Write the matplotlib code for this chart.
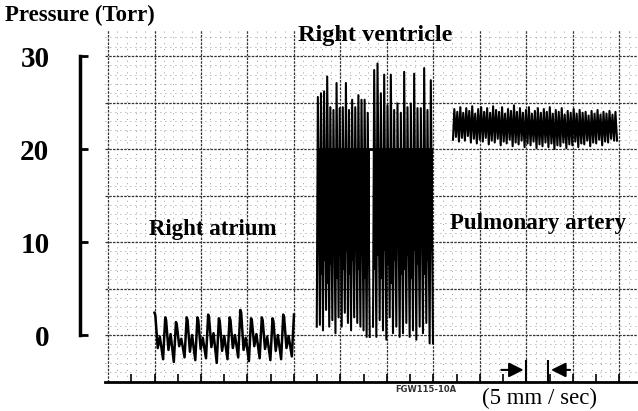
import matplotlib
matplotlib.use('Agg')
import matplotlib.pyplot as plt
import numpy as np

plt.rcParams['font.family'] = ['Liberation Serif', 'DejaVu Serif']

# ── Data (pressure in Torr, time in grid boxes) ──
# Right atrium: one value per beat
ra_span   = (1.0, 4.0)
ra_peak   = [2.4, 1.9, 1.4, 1.9, 1.9, 2.2, 1.8, 1.9, 2.7, 1.8, 1.9, 1.8, 2.2]
ra_dip    = [-1.4, -1.6, -1.2, -1.8, -1.5, -1.3, -1.7, -1.4, -1.6, -1.2, -1.5, -1.7, -1.4]
ra_bump   = [-0.2, 0.1, -0.4, 0.0, -0.3, 0.2, -0.1, 0.0, -0.3, 0.1, -0.2, 0.0, -0.1]
ra_trough = [-2.6, -2.9, -2.4, -2.7, -2.5, -3.0, -2.6, -2.4, -2.8, -2.5, -2.7, -2.6, -2.3]

# Right ventricle: two recording segments
rv_span_a    = (4.49, 5.63)
rv_peak_a    = [25.6, 26.0, 26.2, 27.8, 24.5, 24.2, 27.1, 24.4, 24.5, 27.1,
                24.2, 25.3, 24.5, 25.8, 25.3, 25.3, 23.9]
rv_trough_a  = [0.9, 1.1, 0.5, 2.7, 0.9, 1.6, 0.2, 1.9, 0.9, 2.4,
                1.3, 0.5, 1.9, 1.3, 0.9, 0.5, -0.2]
rv_core_lo_a = [9.0, 6.5, 8.0, 5.5, 7.5, 9.5, 6.0, 8.5, 7.0, 9.0,
                6.5, 8.0, 10.0, 7.0, 8.5, 6.0, 7.5]
rv_span_b    = (5.70, 6.99)
rv_peak_b    = [28.5, 29.2, 26.0, 28.0, 24.7, 28.0, 24.2, 24.9, 23.9, 28.3,
                24.5, 24.9, 28.1, 24.4, 24.4, 28.7, 24.2, 27.4]
rv_trough_b  = [0.9, -0.2, 1.6, 0.5, -0.5, 1.9, 0.2, 0.9, -0.2, 0.2,
                1.3, -0.2, 0.5, -0.5, 0.9, 0.2, 1.3, -0.9]
rv_core_lo_b = [7.0, 8.5, 6.0, 9.0, 7.5, 5.5, 8.0, 9.5, 6.5, 7.0,
                8.5, 6.0, 9.0, 7.5, 10.0, 6.5, 8.0, 9.0]
rv_core_hi   = 20.0

# Pulmonary artery
pa_span   = (7.42, 10.95)
pa_peak   = [24.3, 24.0, 24.5, 23.9, 24.4, 24.1, 24.6, 23.8, 24.3, 24.5,
             24.0, 24.4, 23.9, 24.6, 24.2, 24.0, 24.5, 23.8, 24.3, 24.1,
             24.7, 24.0, 24.4, 23.9, 24.2, 24.5, 23.8, 24.1, 24.4, 23.9,
             24.3, 24.0, 24.5, 23.8, 24.2, 24.0, 24.4, 23.7, 24.1, 23.9,
             24.3, 23.8, 24.2, 23.9, 24.0, 23.6, 24.1, 23.8, 24.2, 23.7,
             24.0, 23.8, 24.1, 23.7, 24.0]
pa_trough = [21.0, 21.3, 20.8, 21.2, 20.9, 21.4, 20.7, 21.1, 20.6, 21.0,
             20.8, 21.2, 20.5, 20.9, 20.7, 21.1, 20.4, 20.8, 20.6, 21.0,
             20.3, 20.7, 20.5, 20.9, 20.2, 20.6, 20.4, 20.8, 20.1, 20.5,
             20.3, 20.7, 20.2, 20.6, 20.0, 20.4, 20.3, 20.7, 20.1, 20.5,
             20.4, 20.8, 20.2, 20.6, 20.5, 20.9, 20.3, 20.7, 20.6, 21.0,
             20.4, 20.8, 20.7, 21.1, 20.9]

y_ticks = [0, 10, 20, 30]


def zigzag(span, lows, highs, rise=0.3):
    n = len(highs)
    edges = np.linspace(span[0], span[1], n + 1)
    w = edges[1] - edges[0]
    xs, ys = [], []
    for i in range(n):
        xs += [edges[i], edges[i] + rise * w]
        ys += [lows[i], highs[i]]
    xs.append(span[1])
    ys.append(lows[-1])
    return xs, ys


def atrial(span, peak, dip, bump, trough):
    n = len(peak)
    edges = np.linspace(span[0], span[1], n + 1)
    w = edges[1] - edges[0]
    xs, ys = [], []
    for i in range(n):
        xs += [edges[i], edges[i] + 0.08 * w, edges[i] + 0.3 * w,
               edges[i] + 0.5 * w, edges[i] + 0.8 * w]
        ys += [peak[i], peak[i] - 0.3, dip[i], bump[i], trough[i]]
    xs.append(span[1])
    ys.append(peak[-1])
    return xs, ys


fig = plt.figure(figsize=(6.38, 4.11), dpi=100)
fig.patch.set_facecolor('white')
ax = fig.add_axes([105 / 638, 29 / 411, 533 / 638, 352 / 411])
ax.set_xlim(-0.065, 11.4)
ax.set_ylim(-5.05, 32.8)

# ── graph paper ──
for yy in np.arange(-4, 33, 1):
    if yy % 5:
        ax.axhline(yy, color='#777777', lw=0.6, ls=(0, (1, 5)), zorder=0)
for xx in np.arange(0.2, 11.4, 0.2):
    if abs(xx - round(xx)) > 0.05:
        ax.axvline(xx, color='#777777', lw=0.6, ls=(0, (1, 6)), zorder=0)
for yy in range(0, 31, 5):
    ax.axhline(yy, color='#333333', lw=0.9, ls=(0, (2, 1)), zorder=1)
for xx in range(0, 12):
    ax.axvline(xx, color='#333333', lw=0.9, ls=(0, (2, 1)), zorder=1)

# ── traces ──
xs, ys = atrial(ra_span, ra_peak, ra_dip, ra_bump, ra_trough)
ax.plot(xs, ys, color='black', lw=1.8, zorder=3)

for span, lows, highs, core_lo in [(rv_span_a, rv_trough_a, rv_peak_a, rv_core_lo_a),
                                   (rv_span_b, rv_trough_b, rv_peak_b, rv_core_lo_b)]:
    edges = np.linspace(span[0], span[1], len(core_lo) + 1)
    ax.fill_between(edges, list(core_lo) + [core_lo[-1]], rv_core_hi,
                    step='post', color='black', lw=0, zorder=2)
    xs, ys = zigzag(span, lows, highs, rise=0.35)
    ax.plot(xs, ys, color='black', lw=1.5, zorder=3)
ax.hlines(rv_core_hi, rv_span_a[0], rv_span_b[1], color='black', lw=2, zorder=3)

xs, ys = zigzag(pa_span, pa_trough, pa_peak, rise=0.45)
ax.plot(xs, ys, color='black', lw=1.5, zorder=3)

# ── axes ──
ax.spines['top'].set_visible(False)
ax.spines['right'].set_visible(False)
ax.spines['bottom'].set_linewidth(2)
ax.spines['left'].set_position(('outward', 18))
ax.spines['left'].set_bounds(0, 30)
ax.spines['left'].set_linewidth(2.5)
ax.set_yticks(y_ticks)
ax.set_yticklabels([str(t) for t in y_ticks], fontsize=21, fontweight='bold')
ax.tick_params(axis='y', direction='in', length=6, width=2, pad=22)
ax.set_xticks(np.arange(0.5, 11.01, 0.5))
ax.set_xticklabels([])
ax.tick_params(axis='x', direction='in', length=6, width=1.2)

# scale bar (5 mm / sec)
ax.vlines([9.0, 9.47], -5.05, -2.7, color='black', lw=1.5, zorder=4)
ax.annotate('', xy=(9.0, -3.75), xytext=(8.4, -3.75),
            arrowprops=dict(arrowstyle='-|>', mutation_scale=22, lw=1.5, color='black'))
ax.annotate('', xy=(9.47, -3.75), xytext=(10.0, -3.75),
            arrowprops=dict(arrowstyle='-|>', mutation_scale=22, lw=1.5, color='black'))

# ── labels ──
bold = dict(fontsize=16.5, fontweight='bold', va='center')
fig.text(5 / 638, 1 - 15 / 411, 'Pressure (Torr)', ha='left', **bold)
fig.text(375 / 638, 1 - 35 / 411, 'Right ventricle', ha='center',
         fontsize=17.5, fontweight='bold', va='center')
fig.text(213 / 638, 1 - 229 / 411, 'Right atrium', ha='center', **bold)
fig.text(538 / 638, 1 - 223 / 411, 'Pulmonary artery', ha='center', **bold)
fig.text(540 / 638, 1 - 398 / 411, '(5 mm / sec)', ha='center', va='center', fontsize=16.5)
fig.text(395 / 638, 1 - 389 / 411, 'FGW115-10A', ha='left', va='center',
         fontsize=6, fontweight='bold', color='#333333', family='DejaVu Sans')

fig.savefig('out.png', dpi=100, facecolor='white')
